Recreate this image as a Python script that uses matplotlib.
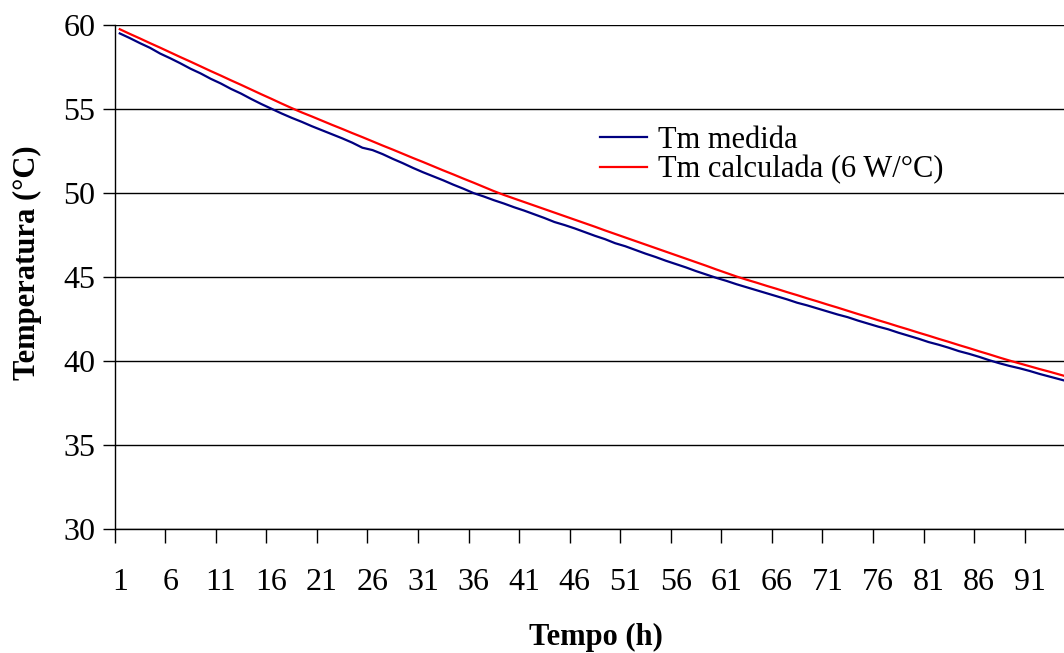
import matplotlib
matplotlib.use('Agg')
import matplotlib.pyplot as plt

plt.rcParams['font.family'] = ['Liberation Serif', 'DejaVu Serif']

# Tm medida (blue) and Tm calculada (red), one value per hour
tm_medida = [59.50, 59.22, 58.92, 58.64, 58.30, 58.02, 57.72, 57.40, 57.12, 56.80,
             56.52, 56.20, 55.92, 55.60, 55.30, 55.02, 54.74, 54.48, 54.24, 53.98,
             53.74, 53.50, 53.26, 53.00, 52.70, 52.56, 52.32, 52.04, 51.78, 51.50,
             51.24, 51.00, 50.76, 50.50, 50.26, 50.00, 49.80, 49.58, 49.38, 49.16,
             48.96, 48.74, 48.52, 48.28, 48.10, 47.90, 47.68, 47.46, 47.26, 47.02,
             46.84, 46.62, 46.40, 46.20, 45.98, 45.78, 45.58, 45.36, 45.16, 44.96,
             44.78, 44.58, 44.40, 44.22, 44.04, 43.86, 43.68, 43.48, 43.32, 43.14,
             42.96, 42.78, 42.62, 42.42, 42.24, 42.06, 41.90, 41.70, 41.52, 41.34,
             41.14, 40.98, 40.80, 40.60, 40.44, 40.26, 40.06, 39.88, 39.72, 39.58,
             39.42, 39.24, 39.08, 38.92, 38.76]
tm_calculada = [59.75, 59.47, 59.20, 58.92, 58.65, 58.37, 58.09, 57.82, 57.54, 57.26,
                56.99, 56.71, 56.44, 56.16, 55.88, 55.61, 55.33, 55.06, 54.80, 54.56,
                54.31, 54.06, 53.82, 53.57, 53.33, 53.08, 52.83, 52.59, 52.34, 52.09,
                51.85, 51.60, 51.35, 51.11, 50.86, 50.62, 50.37, 50.12, 49.89, 49.68,
                49.47, 49.26, 49.05, 48.84, 48.63, 48.42, 48.21, 48.00, 47.78, 47.57,
                47.36, 47.15, 46.94, 46.73, 46.52, 46.31, 46.10, 45.89, 45.68, 45.46,
                45.25, 45.04, 44.85, 44.67, 44.48, 44.30, 44.11, 43.93, 43.74, 43.56,
                43.37, 43.19, 43.00, 42.81, 42.63, 42.44, 42.26, 42.07, 41.89, 41.70,
                41.52, 41.33, 41.15, 40.96, 40.78, 40.59, 40.41, 40.22, 40.04, 39.87,
                39.70, 39.53, 39.37, 39.20, 39.03]
horas = list(range(1, len(tm_medida) + 1))
yticks = [30, 35, 40, 45, 50, 55, 60]

fig = plt.figure(figsize=(10.64, 6.53), dpi=100)
# plot area runs past the right edge of the picture, as in the original
ax = fig.add_axes([0.1078, 0.1894, 0.9027, 0.7723])

ax.plot(horas, tm_medida, color='#000080', lw=1.6, label='Tm medida')
ax.plot(horas, tm_calculada, color='#ff0000', lw=1.6, label='Tm calculada (6 W/°C)')

ax.set_xlim(0.5, len(horas) + 0.5)
ax.set_ylim(30, 60)
ax.set_yticks(yticks)
ax.yaxis.grid(True, color='black', lw=1.0)
ax.set_axisbelow(True)

# tick marks between categories, labels on categories
ax.set_xticks([h - 0.5 for h in horas[::5]])
ax.set_xticklabels([])
ax.set_xticks(horas[::5], minor=True)
ax.set_xticklabels([str(h) for h in horas[::5]], minor=True)
ax.tick_params(axis='x', which='major', length=10, width=1, direction='out', color='black')
ax.tick_params(axis='x', which='minor', length=0, pad=28, labelsize=23)
ax.tick_params(axis='y', length=9, width=1, direction='out', pad=5, labelsize=23)

for s in ['top', 'right']:
    ax.spines[s].set_visible(False)
for s in ['left', 'bottom']:
    ax.spines[s].set_color('black')
    ax.spines[s].set_linewidth(1.0)

fig.text(596 / 1064, 1 - 637 / 653, 'Tempo (h)', fontsize=22, fontweight='bold',
         ha='center', va='center')
fig.text(27 / 1064, 1 - 263 / 653, 'Temperatura (°C)', fontsize=22, fontweight='bold',
         ha='center', va='center', rotation=90)

ax.legend(loc='upper left', bbox_to_anchor=(600 / 1064, 1 - 126 / 653),
          bbox_transform=fig.transFigure, frameon=False, fontsize=22,
          handlelength=1.55, handletextpad=0.35, labelspacing=0.0, borderpad=0,
          borderaxespad=0)

fig.savefig('out.png', dpi=100)
